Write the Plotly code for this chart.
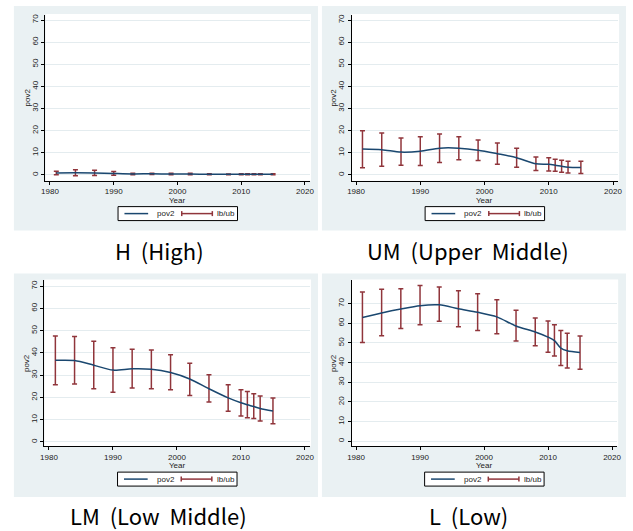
import plotly.graph_objects as go

W, H = 633, 531

years = [1981, 1984, 1987, 1990, 1993, 1996, 1999, 2002, 2005, 2008, 2010, 2011, 2012, 2013, 2015]

# H (High)
h_pov = [0.9, 0.95, 0.9, 0.65, 0.45, 0.5, 0.4, 0.4, 0.3, 0.25, 0.3, 0.3, 0.3, 0.3, 0.3]
h_lb = [0.1, -0.4, -0.3, -0.2, 0.1, 0.2, 0.1, 0.1, 0.1, 0.05, 0.1, 0.1, 0.1, 0.1, 0.1]
h_ub = [1.7, 2.3, 2.1, 1.5, 0.8, 0.8, 0.7, 0.7, 0.5, 0.45, 0.5, 0.5, 0.5, 0.5, 0.5]

# UM (Upper Middle)
um_pov = [11.7, 11.4, 10.3, 10.7, 12.1, 12.1, 11.2, 9.6, 7.8, 5.0, 4.8, 4.4, 3.9, 3.5, 3.4]
um_lb = [3.2, 3.9, 4.4, 4.2, 5.6, 6.9, 6.5, 4.8, 3.5, 2.0, 1.8, 1.7, 1.2, 0.9, 0.6]
um_ub = [20.0, 18.9, 16.7, 17.3, 18.5, 17.3, 15.8, 14.4, 12.0, 8.1, 7.8, 7.1, 6.6, 6.2, 6.2]

# LM (Low Middle)
lm_pov = [36.7, 36.6, 34.5, 32.3, 32.9, 32.7, 31.2, 28.3, 23.9, 19.8, 17.6, 16.7, 15.9, 15.0, 13.9]
lm_lb = [25.7, 26.0, 23.9, 22.3, 24.2, 23.9, 23.5, 20.9, 17.9, 13.8, 11.7, 10.9, 10.5, 9.4, 8.2]
lm_ub = [47.6, 47.4, 45.3, 42.3, 41.7, 41.3, 39.2, 35.4, 30.2, 25.7, 23.5, 22.7, 21.7, 20.6, 19.7]

# L (Low)
l_pov = [63.0, 65.3, 67.3, 69.0, 69.4, 67.4, 65.6, 63.3, 58.6, 55.6, 53.0, 51.2, 47.4, 46.0, 45.1]
l_lb = [50.2, 53.7, 57.3, 59.3, 61.0, 58.3, 56.4, 54.7, 51.0, 48.6, 45.3, 43.4, 38.6, 37.3, 36.6]
l_ub = [75.9, 77.3, 77.6, 79.2, 78.5, 76.6, 75.1, 72.0, 66.6, 62.7, 61.2, 59.3, 56.3, 54.9, 53.6]

captions = ["H  (High)", "UM  (Upper  Middle)", "LM  (Low  Middle)", "L  (Low)"]
x_ticks = [1980, 1990, 2000, 2010, 2020]
y_ticks = [0, 10, 20, 30, 40, 50, 60, 70]

NAVY = "#1A476F"
MAROON = "#90353B"
BG = "#EAF1F3"
GRID = "#E4ECEF"
TXT = "#222222"
TICKFONT = dict(family="Liberation Sans, Arial, sans-serif", size=8, color=TXT)

def px(x):
    return x / W

def py(y):
    return 1 - y / H

# panel layout in pixels: plot area (x0, x1, y0, y1), panel bg, y range, caption center
panels = [
    dict(pov=h_pov, lb=h_lb, ub=h_ub, plot=(42, 310, 14, 180), bg=(10, 318, 5, 230),
         yr=[-2.6, 72.3], cap=(157, 249)),
    dict(pov=um_pov, lb=um_lb, ub=um_ub, plot=(352, 622, 14, 180), bg=(322, 630, 5, 230),
         yr=[-2.6, 72.3], cap=(470, 249)),
    dict(pov=lm_pov, lb=lm_lb, ub=lm_ub, plot=(41, 310, 280, 446), bg=(10, 318, 273, 497),
         yr=[-1.9, 72.6], cap=(156, 515)),
    dict(pov=l_pov, lb=l_lb, ub=l_ub, plot=(352, 621, 280, 446), bg=(322, 630, 273, 497),
         yr=[-2.5, 81.8], cap=(470, 515)),
]

fig = go.Figure()
shapes = []
annotations = []

for i, p in enumerate(panels):
    n = "" if i == 0 else str(i + 1)
    xa, ya = "x" + n, "y" + n
    x0, x1, y0, y1 = p["plot"]
    bx0, bx1, by0, by1 = p["bg"]

    # panel background
    shapes.append(dict(type="rect", xref="paper", yref="paper",
                       x0=px(bx0), x1=px(bx1), y0=py(by1), y1=py(by0),
                       fillcolor=BG, line=dict(width=0), layer="below"))

    # error bars (rcap)
    err_plus = [u - m for u, m in zip(p["ub"], p["pov"])]
    err_minus = [m - l for m, l in zip(p["pov"], p["lb"])]
    fig.add_trace(go.Scatter(
        x=years, y=p["pov"], mode="markers", xaxis=xa, yaxis=ya,
        marker=dict(size=1, opacity=0), showlegend=False, hoverinfo="skip",
        error_y=dict(type="data", symmetric=False, array=err_plus, arrayminus=err_minus,
                     color=MAROON, thickness=1.5, width=2.5)))
    # main line
    fig.add_trace(go.Scatter(
        x=years, y=p["pov"], mode="lines", xaxis=xa, yaxis=ya,
        line=dict(color=NAVY, width=1.5, shape="spline", smoothing=0.8),
        showlegend=False, name="pov2"))

    axis_common = dict(showline=True, linecolor="#000000", linewidth=1,
                       ticks="outside", ticklen=3, tickwidth=1, tickcolor="#000000",
                       tickfont=TICKFONT, zeroline=False, fixedrange=True)
    fig.update_layout(**{
        ("xaxis" + n): dict(domain=[px(x0), px(x1)], range=[1979.3, 2020.8],
                            tickvals=x_ticks, ticktext=[str(t) for t in x_ticks],
                            showgrid=False, anchor=ya, **axis_common),
        ("yaxis" + n): dict(domain=[py(y1), py(y0)], range=p["yr"],
                            tickvals=y_ticks, ticktext=[str(t) for t in y_ticks],
                            tickangle=-90, showgrid=True, gridcolor=GRID, gridwidth=1,
                            anchor=xa, **axis_common),
    })

    # plot area white
    shapes.append(dict(type="rect", xref="paper", yref="paper",
                       x0=px(x0), x1=px(x1 + 1), y0=py(y1), y1=py(y0 - 1),
                       fillcolor="#FFFFFF", line=dict(width=0), layer="below"))

    cx = (x0 + x1) / 2
    # axis titles
    annotations.append(dict(text="pov2", xref="paper", yref="paper",
                            x=px(x0 - 18), y=py((y0 + y1) / 2), showarrow=False,
                            textangle=-90, font=TICKFONT, xanchor="center", yanchor="middle"))
    annotations.append(dict(text="Year", xref="paper", yref="paper",
                            x=px(cx), y=py(y1 + 19.5), showarrow=False,
                            font=TICKFONT, xanchor="center", yanchor="middle"))

    # legend box
    ly0 = y1 + 26
    ly1 = ly0 + 14
    lmid = (ly0 + ly1) / 2
    shapes.append(dict(type="rect", xref="paper", yref="paper",
                       x0=px(cx - 60.5), x1=px(cx + 60.5), y0=py(ly1), y1=py(ly0),
                       fillcolor="#FFFFFF", line=dict(color="#000000", width=1)))
    shapes.append(dict(type="line", xref="paper", yref="paper",
                       x0=px(cx - 54), x1=px(cx - 30), y0=py(lmid), y1=py(lmid),
                       line=dict(color=NAVY, width=1.5)))
    annotations.append(dict(text="pov2", xref="paper", yref="paper",
                            x=px(cx - 23), y=py(lmid), showarrow=False, font=TICKFONT,
                            xanchor="left", yanchor="middle"))
    shapes.append(dict(type="line", xref="paper", yref="paper",
                       x0=px(cx + 4), x1=px(cx + 35), y0=py(lmid), y1=py(lmid),
                       line=dict(color=MAROON, width=1.5)))
    for ex in (cx + 4, cx + 35):
        shapes.append(dict(type="line", xref="paper", yref="paper",
                           x0=px(ex), x1=px(ex), y0=py(lmid - 2.5), y1=py(lmid + 2.5),
                           line=dict(color=MAROON, width=1.5)))
    annotations.append(dict(text="lb/ub", xref="paper", yref="paper",
                            x=px(cx + 38), y=py(lmid), showarrow=False, font=TICKFONT,
                            xanchor="left", yanchor="middle"))

    # caption
    annotations.append(dict(text=captions[i], xref="paper", yref="paper",
                            x=px(p["cap"][0]), y=py(p["cap"][1]), showarrow=False,
                            font=dict(family="Noto Sans CJK KR, Noto Sans, sans-serif",
                                      size=22, color="#000000"),
                            xanchor="center", yanchor="middle"))

fig.update_layout(width=W, height=H, autosize=False,
                  margin=dict(l=0, r=0, t=0, b=0, pad=0),
                  paper_bgcolor="#FFFFFF", plot_bgcolor="rgba(0,0,0,0)",
                  shapes=shapes, annotations=annotations, showlegend=False)

fig.write_html("out.html", config={"displayModeBar": False},
               post_script="document.body.style.margin='0';document.body.style.overflow='hidden';")
